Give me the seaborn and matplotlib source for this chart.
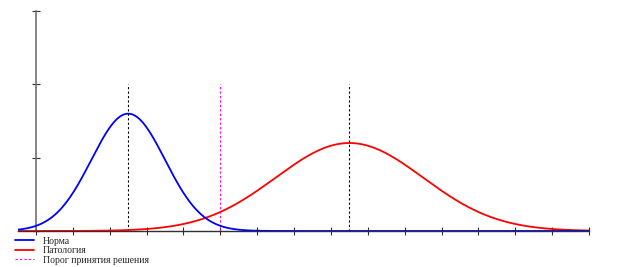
import numpy as np
import pandas as pd
import matplotlib
matplotlib.use("Agg")
import matplotlib.pyplot as plt
import seaborn as sns

# Data
series_names = ["Норма", "Патология"]
series_means = [2.5, 8.5]
series_sigmas = [1.0, 2.0]
series_peaks = [1.6, 1.2]
series_colors = ["#0000ff", "#ff0000"]
threshold_label = "Порог принятия решения"
threshold_x = 5.0
line_top = 2.0
x_ticks = list(range(0, 16))
y_ticks = [0, 1, 2, 3]

sns.set_style("white")
plt.rcParams["font.family"] = ["Liberation Serif", "DejaVu Serif"]

fig = plt.figure(figsize=(6.23, 2.67), dpi=100)
ax = fig.add_axes([17.6 / 623, 36 / 267, (589 - 17.6) / 623, 220 / 267])

xs = np.linspace(-0.5, 15, 600)
frames = []
for name, m, s, p in zip(series_names, series_means, series_sigmas, series_peaks):
    frames.append(pd.DataFrame({"x": xs, "y": p * np.exp(-0.5 * ((xs - m) / s) ** 2), "series": name}))
df = pd.concat(frames)

# red first, blue on top
sns.lineplot(data=df[df.series == series_names[1]], x="x", y="y", color=series_colors[1],
             lw=1.3, ax=ax, label=series_names[1], zorder=3)
sns.lineplot(data=df[df.series == series_names[0]], x="x", y="y", color=series_colors[0],
             lw=1.3, ax=ax, label=series_names[0], zorder=4)

for m in series_means:
    ax.plot([m, m], [0, line_top], color="black", lw=0.8, ls=(0, (2, 2)), zorder=2)
thr, = ax.plot([threshold_x, threshold_x], [0, line_top], color="#ff00ff", lw=0.8,
               ls=(0, (2, 2)), zorder=2, label=threshold_label)

ax.set_xlim(-0.5, 15)
ax.set_ylim(0, 3)
ax.set_xticks(x_ticks)
ax.set_yticks(y_ticks)
ax.set_xticklabels([])
ax.set_yticklabels([])
ax.set_xlabel("")
ax.set_ylabel("")
ax.spines["left"].set_position(("data", 0))
ax.spines["left"].set_color("#707070")
ax.spines["left"].set_linewidth(1.2)
ax.spines["bottom"].set_color("#303030")
ax.spines["bottom"].set_linewidth(1.0)
ax.spines["top"].set_visible(False)
ax.spines["right"].set_visible(False)
ax.tick_params(axis="both", direction="inout", length=6, width=0.8, color="#303030",
               bottom=True, left=True)
ax.patch.set_alpha(0)

handles, labels = ax.get_legend_handles_labels()
order = [series_names[0], series_names[1], threshold_label]
hmap = dict(zip(labels, handles))
if ax.get_legend():
    ax.get_legend().remove()
leg = fig.legend([hmap[o] for o in order], order, loc="upper left",
                 bbox_to_anchor=(8 / 623, 1 - 230 / 267), frameon=False, fontsize=7,
                 labelspacing=0.05, handlelength=2.0, handletextpad=0.9, borderpad=0.2)

fig.savefig("out.png", dpi=100)
